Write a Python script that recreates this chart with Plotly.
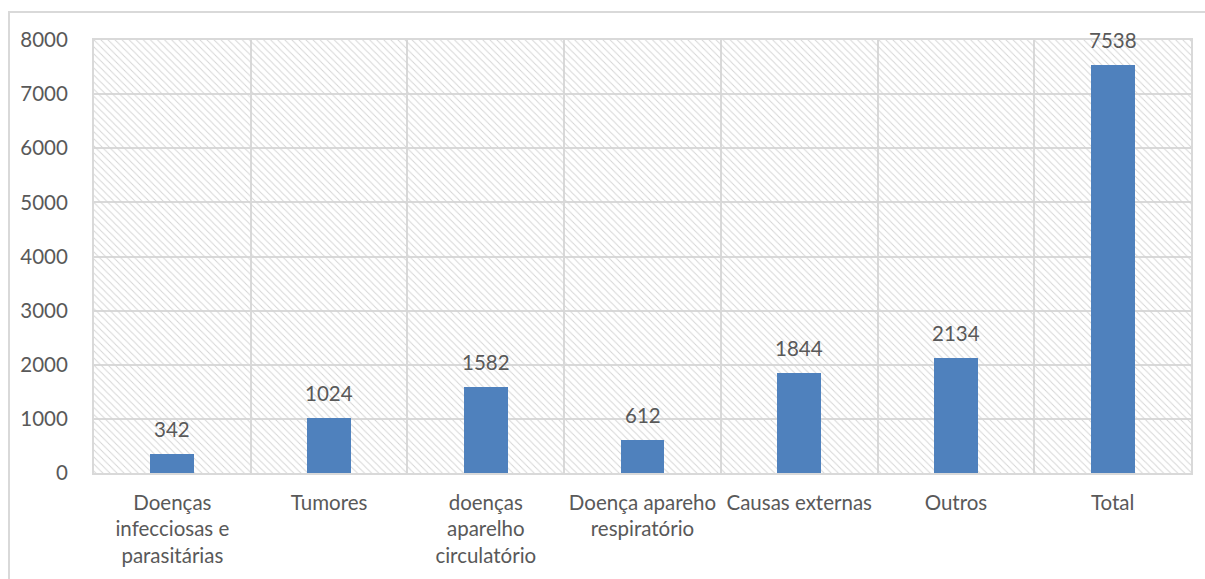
import plotly.graph_objects as go

# Óbitos por grupo de causas
categorias = [
    "Doenças<br>infecciosas e<br>parasitárias",
    "Tumores",
    "doenças<br>aparelho<br>circulatório",
    "Doença apareho<br>respiratório",
    "Causas externas",
    "Outros",
    "Total",
]
valores = [342, 1024, 1582, 612, 1844, 2134, 7538]

y_max = 8000
y_ticks = [0, 1000, 2000, 3000, 4000, 5000, 6000, 7000, 8000]

GRID = "#d9d9d9"
BAR = "#4f81bd"
TEXT = "#595959"
FONT = "Lato"
FS = 20.5

fig = go.Figure()

# Hatched plot background, one full-width band per category
fig.add_trace(go.Bar(
    x=categorias,
    y=[y_max] * len(categorias),
    width=1,
    marker=dict(
        color="rgba(0,0,0,0)",
        line=dict(width=0),
        pattern=dict(shape="\\", fgcolor="#d4d4d4", bgcolor="rgba(0,0,0,0)",
                     size=5, solidity=0.18, fillmode="replace"),
    ),
    hoverinfo="skip",
    showlegend=False,
))

fig.add_trace(go.Bar(
    x=categorias,
    y=valores,
    width=0.28,
    marker=dict(color=BAR, line=dict(width=0)),
    showlegend=False,
))

for c, v in zip(categorias, valores):
    fig.add_annotation(
        x=c, y=v, text=str(v), showarrow=False,
        yanchor="bottom", yshift=11,
        font=dict(family=FONT, size=FS, color=TEXT),
    )

# Outer chart frame
fig.add_shape(
    type="rect", xref="paper", yref="paper",
    x0=-0.0775, x1=1.03, y0=-0.4, y1=1.0647,
    line=dict(color=GRID, width=2), layer="below",
)

fig.update_layout(
    width=1205, height=579,
    margin=dict(l=94, r=14, t=40, b=106, autoexpand=False),
    paper_bgcolor="white",
    plot_bgcolor="white",
    barmode="overlay",
    bargap=0,
    font=dict(family=FONT, size=FS, color=TEXT),
)

fig.update_xaxes(
    type="category",
    tickson="boundaries",
    showgrid=True, gridcolor=GRID, gridwidth=2,
    showline=True, linecolor=GRID, linewidth=2, mirror=True,
    ticks="", ticklabelstandoff=10, tickangle=0, automargin=False,
    tickfont=dict(family=FONT, size=FS, color=TEXT),
)
fig.update_yaxes(
    range=[0, y_max],
    tickvals=y_ticks,
    showgrid=True, gridcolor=GRID, gridwidth=2,
    showline=True, linecolor=GRID, linewidth=2, mirror=True,
    zeroline=False, automargin=False,
    ticks="", ticklabelstandoff=20,
    tickfont=dict(family=FONT, size=FS, color=TEXT),
)

fig.write_html("out.html")
